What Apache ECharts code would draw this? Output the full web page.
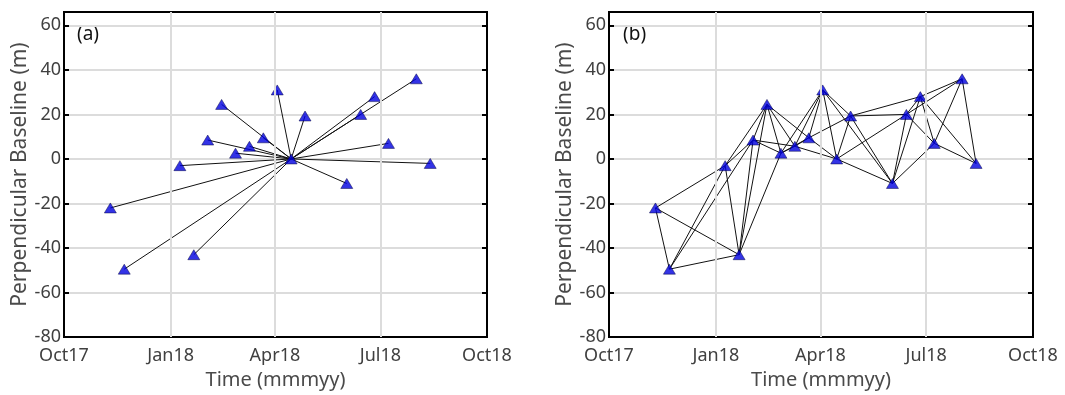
<!DOCTYPE html>
<html lang="en">
<head>
<meta charset="UTF-8">
<title>Baseline network</title>
<script src="https://cdn.jsdelivr.net/npm/echarts@6/dist/echarts.min.js"></script>
<style>
  html, body { margin: 0; padding: 0; background: #fff; }
  #main { width: 1065px; height: 395px; }
</style>
</head>
<body>
<div id="main"></div>
<script>
// acquisition dates and perpendicular baselines (m)
var dates = ['2017-11-10', '2017-11-22', '2018-01-09', '2018-01-21', '2018-02-02', '2018-02-14',
             '2018-02-26', '2018-03-10', '2018-03-22', '2018-04-03', '2018-04-15', '2018-04-27',
             '2018-06-02', '2018-06-14', '2018-06-26', '2018-07-08', '2018-08-01', '2018-08-13'];
var bperp = [-22, -49.5, -3, -43, 8.5, 24.5, 2.6, 5.7, 9.5, 31, 0, 19.3, -11, 20, 28, 7, 36, -2];
var masterIndex = 10;
// interferometric pairs in panel (b), index into dates
var networkPairs = [
  [0, 1], [0, 2], [0, 3], [1, 2], [1, 3], [1, 4], [2, 3], [2, 4], [2, 5],
  [3, 4], [3, 5], [3, 6], [4, 5], [4, 6], [4, 7], [5, 6], [5, 7], [5, 8],
  [6, 7], [6, 8], [6, 9], [7, 8], [7, 9], [7, 10], [8, 9], [8, 10], [8, 11],
  [9, 10], [9, 11], [9, 12], [10, 11], [10, 12], [10, 13], [11, 12], [11, 13], [11, 14],
  [12, 13], [12, 14], [12, 15], [13, 14], [13, 15], [13, 16], [14, 15], [14, 16], [14, 17],
  [15, 16], [15, 17], [16, 17]
];
var tickDates = ['2017-10-01', '2018-01-01', '2018-04-01', '2018-07-01', '2018-10-01'];
var tickLabels = ['Oct17', 'Jan18', 'Apr18', 'Jul18', 'Oct18'];

var parse = function (s) { return echarts.time.parse(s).getTime(); };
var t = dates.map(parse);
var tickT = tickDates.map(parse);
var xMin = tickT[0], xMax = tickT[tickT.length - 1];

var pts = t.map(function (v, i) { return [v, bperp[i]]; });

var starLines = [];
for (var i = 0; i < t.length; i++) {
  if (i === masterIndex) continue;
  starLines.push({ coords: [pts[masterIndex], pts[i]] });
}
var netLines = networkPairs.map(function (p) {
  return { coords: [pts[p[0]], pts[p[1]]] };
});

var font = 'Noto Sans';
var lblColor = '#404040';
var nameColor = '#4a4a4a';

function xAx(gi) {
  return [{
    type: 'value', gridIndex: gi, min: xMin, max: xMax,
    name: 'Time (mmmyy)', nameLocation: 'middle', nameGap: 27,
    nameTextStyle: { fontFamily: font, fontSize: 20, color: nameColor },
    axisLine: { show: false },
    axisTick: { inside: true, length: 5, lineStyle: { color: '#000', width: 2 }, customValues: tickT },
    axisLabel: {
      customValues: tickT, fontFamily: font, fontSize: 18, color: lblColor, margin: 10,
      formatter: function (v) { return tickLabels[tickT.indexOf(v)] || ''; }
    },
    splitLine: { show: false }
  }, {
    type: 'value', gridIndex: gi, min: xMin, max: xMax, position: 'top',
    axisLine: { show: false },
    axisTick: { inside: true, length: 5, lineStyle: { color: '#000', width: 2 }, customValues: tickT },
    axisLabel: { show: false },
    splitLine: { show: false }
  }];
}
function yAx(gi) {
  return [{
    type: 'value', gridIndex: gi, min: -80, max: 66, interval: 20,
    name: 'Perpendicular Baseline (m)', nameLocation: 'middle', nameGap: 29,
    nameTextStyle: { fontFamily: font, fontSize: 21, color: nameColor },
    axisLine: { show: false },
    axisTick: { inside: true, length: 5, lineStyle: { color: '#000', width: 2 } },
    axisLabel: {
      fontFamily: font, fontSize: 18, color: lblColor, margin: 3,
      formatter: function (v) { return v % 20 === 0 ? v : ''; }
    },
    splitLine: { show: true, lineStyle: { color: '#dcdcdc', width: 2 } }
  }, {
    type: 'value', gridIndex: gi, min: -80, max: 66, interval: 20, position: 'right',
    axisLine: { show: false },
    axisTick: { inside: true, length: 5, lineStyle: { color: '#000', width: 2 } },
    axisLabel: { show: false },
    splitLine: { show: false }
  }];
}

// vertical grid lines at the month ticks, placed through the x scale
function vGrid(xi, yi) {
  return {
    type: 'line', xAxisIndex: xi, yAxisIndex: yi, data: [], silent: true, z: 1,
    markLine: {
      symbol: 'none', silent: true, label: { show: false },
      lineStyle: { color: '#dcdcdc', width: 2, type: 'solid' },
      data: tickT.slice(1, -1).map(function (v) { return { xAxis: v }; })
    }
  };
}

var triStyle = { color: '#0000e0', borderColor: '#000040', borderWidth: 0.6 };

var chart = echarts.init(document.getElementById('main'));
chart.setOption({
  animation: false,
  grid: [
    { left: 64, right: 578, top: 12, bottom: 42, show: true, borderColor: '#000', borderWidth: 2, backgroundColor: 'transparent', z: 5 },
    { left: 609, right: 32, top: 12, bottom: 42, show: true, borderColor: '#000', borderWidth: 2, backgroundColor: 'transparent', z: 5 }
  ],
  xAxis: xAx(0).concat(xAx(1)),
  yAxis: yAx(0).concat(yAx(1)),
  graphic: [
    { type: 'text', left: 77, top: 25, style: { text: '(a)', fontFamily: font, fontSize: 19, fill: '#111' } },
    { type: 'text', left: 623, top: 25, style: { text: '(b)', fontFamily: font, fontSize: 19, fill: '#111' } }
  ],
  series: [
    vGrid(0, 0),
    vGrid(2, 2),
    {
      type: 'lines', coordinateSystem: 'cartesian2d', xAxisIndex: 0, yAxisIndex: 0,
      lineStyle: { color: '#111', width: 1, opacity: 1 }, data: starLines, z: 3
    },
    {
      type: 'lines', coordinateSystem: 'cartesian2d', xAxisIndex: 2, yAxisIndex: 2,
      lineStyle: { color: '#111', width: 1, opacity: 1 }, data: netLines, z: 3
    },
    {
      type: 'scatter', xAxisIndex: 0, yAxisIndex: 0, symbol: 'triangle', symbolSize: [12, 10],
      itemStyle: triStyle, data: pts, z: 4
    },
    {
      type: 'scatter', xAxisIndex: 2, yAxisIndex: 2, symbol: 'triangle', symbolSize: [12, 10],
      itemStyle: triStyle, data: pts, z: 4
    }
  ]
});
</script>
</body>
</html>
